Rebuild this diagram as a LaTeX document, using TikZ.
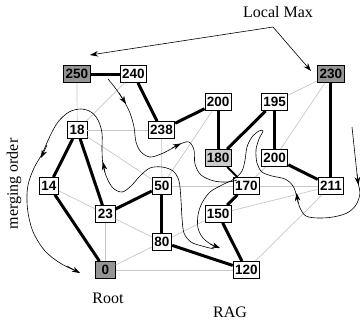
\documentclass[tikz,border=0pt]{standalone}
\usepackage{fontspec}
\setmainfont{Liberation Serif}
\newfontfamily\nodefam{Liberation Sans}
\newcommand\nodefnt{\nodefam\bfseries\fontsize{13.5}{14}\selectfont}
\newcommand\labfnt{\rmfamily\fontsize{16}{18}\selectfont}
\usetikzlibrary{arrows.meta}
\begin{document}
\begin{tikzpicture}[x=1pt,y=-1pt,
  nd/.style={draw, line width=0.8pt, fill=white, minimum height=17pt, minimum width=19.5pt, inner xsep=2pt, inner ysep=0pt, font=\nodefnt},
  dk/.style={nd, fill=black!42},
  lt/.style={nd, fill=black!20},
  tree/.style={line width=3pt},
  thin tree/.style={line width=2pt},
  rag/.style={line width=0.7pt, draw=black!22},
  flow/.style={line width=0.6pt},
  tipst/.style={-{Stealth[length=8pt,width=5.5pt,inset=2.5pt]}, line width=0.6pt},
  lab/.style={font=\labfnt, inner sep=0pt}]
\useasboundingbox (0,0) rectangle (360,322);
% nodes
\node[dk] (n250) at (77,74) {250};
\node[nd] (n240) at (133.5,74) {240};
\node[dk] (n230) at (331,74) {230};
\node[nd] (n200a) at (218.2,102) {200};
\node[nd] (n195) at (274.6,102) {195};
\node[nd] (n18) at (77.2,130) {18};
\node[nd] (n238) at (161.5,130) {238};
\node[lt] (n180) at (218.2,158) {180};
\node[nd] (n200b) at (274.6,158) {200};
\node[nd] (n14) at (49,186) {14};
\node[nd] (n50) at (162,186) {50};
\node[nd] (n170) at (246.4,186) {170};
\node[nd] (n211) at (331,186) {211};
\node[nd] (n23) at (105.4,214) {23};
\node[nd] (n150) at (218.2,214) {150};
\node[nd] (n80) at (162,242) {80};
\node[dk] (n0) at (105.4,270) {0};
\node[nd] (n120) at (246.4,270) {120};
% RAG edges
\draw[rag] (n250) -- (n18);
\draw[rag] (n240) -- (n18);
\draw[rag] (n18) -- (n238);
\draw[rag] (n18) -- (n50);
\draw[rag] (n14) -- (n23);
\draw[rag] (n23) -- (n0);
\draw[rag] (n23) -- (n80);
\draw[rag] (n0) -- (n80);
\draw[rag] (n0) -- (n120);
\draw[rag] (n238) -- (n50);
\draw[rag] (n50) -- (n200a);
\draw[rag] (n50) -- (n170);
\draw[rag] (n80) -- (n150);
\draw[rag] (n170) -- (n211);
\draw[rag] (n170) -- (n200b);
\draw[rag] (n150) -- (n211);
\draw[rag] (n120) -- (n211);
\draw[rag] (n195) -- (n230);
\draw[rag] (n200b) -- (n230);
% tree edges
\draw[tree] (n250) -- (n240);
\draw[tree] (n240) -- (n238);
\draw[tree] (n238) -- (n200a);
\draw[tree] (n200a) -- (n180);
\draw[tree] (n195) -- (n180);
\draw[tree] (n195) -- (n200b);
\draw[tree] (n200b) -- (n211);
\draw[tree] (n230) -- (n211);
\draw[thin tree] (n180) -- (n170);
\draw[tree] (n170) -- (n150);
\draw[tree] (n150) -- (n120);
\draw[tree] (n80) -- (n120);
\draw[tree] (n50) -- (n80);
\draw[tree] (n23) -- (n50);
\draw[tree] (n18) -- (n23);
\draw[tree] (n18) -- (n14);
\draw[tree] (n14) -- (n0);
% labels
\node[lab] (lmax) at (278,12) {Local Max};
\node[lab, rotate=90] (morder) at (14,184) {merging order};
\node[lab] (root) at (108,298) {Root};
\node[lab] (rag) at (230,312) {RAG};
% local max pointers
\coordinate (lm) at (273,27);
\coordinate (lmL) at (90,55);
\coordinate (lmR) at (311,71);
\draw[tipst] (lm) -- (lmL);
\draw[tipst] (lm) -- (lmR);
% merging order curve A (from 250/240)
\draw[flow] plot[smooth, tension=0.55] coordinates {(108,79) (116,89) (124,101) (130,113) (134,127) (136,142) (141,152) (150,157) (161,154) (171,149) (180,144) (189,142) (194,150) (195,164) (201,175) (214,181) (228,182) (237,180)};
\draw[tipst] (119,93) -- (126,104);
\draw[tipst] (172,148) -- (181,143.5);
% curve B (from 230)
\draw[flow] plot[smooth, tension=0.55] coordinates {(352,127) (355,155) (358,182) (360,193) (356,205) (347,213) (333,217) (318,218) (306,216) (300,208) (297,197) (293,186) (285,179) (272,176) (262,172) (257,163) (256,150) (259,139) (263,131) (259,131) (252,137) (247,147) (245,160) (242,171) (234,179) (222,185) (210,192) (202,203) (198,215) (198,228) (203,238) (212,245) (219,248)};
\draw[tipst] (357,174) -- (358.5,185);
\draw[tipst] (298,203) -- (296.5,193);
\draw[tipst] (210,244) -- (220,248);
% curve C (to root)
\draw[flow] plot[smooth, tension=0.55] coordinates {(214,249) (202,246) (191,242) (184,233) (182,218) (181,200) (179,181) (173,171) (162,167) (150,168) (140,176) (131,186) (122,192) (113,188) (107,178) (103,165) (102,150) (102,133) (98,120) (91,112) (81,109) (69,112) (58,122) (50,136) (42,154) (34,168) (28,185) (27,202) (29,218) (34,234) (45,251) (60,263) (78,272)};
\draw[tipst] (105,172) -- (103,162);
\draw[tipst] (47,145) -- (41,158);
\draw[tipst] (67,266) -- (80,273);
\end{tikzpicture}
\end{document}
